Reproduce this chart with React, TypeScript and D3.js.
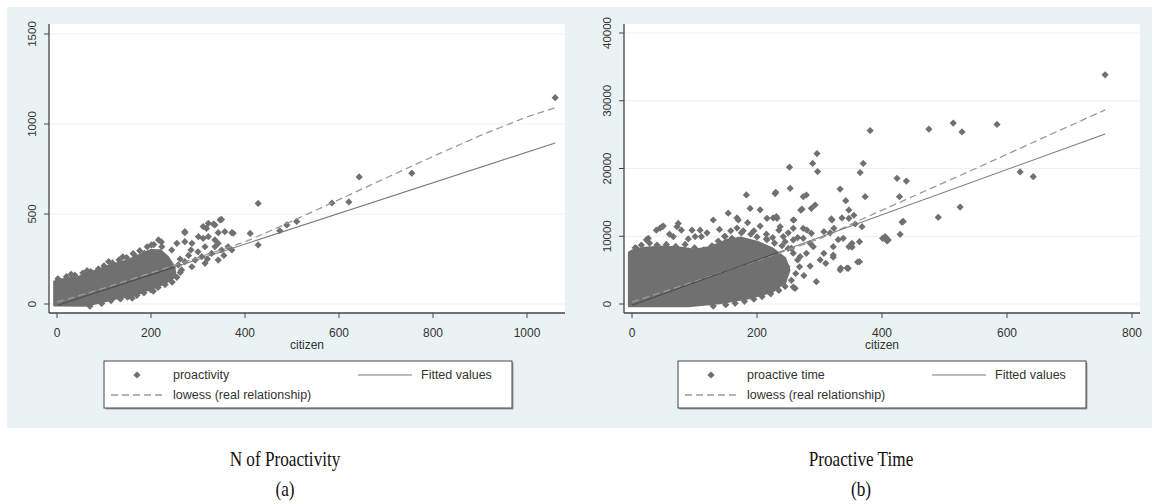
import * as d3 from "d3";

// ---- panel (a): N of Proactivity ----
const xTicksA = [0, 200, 400, 600, 800, 1000];
const yTicksA = [0, 500, 1000, 1500];

// solid core of the dense cloud (citizen, proactivity)
const cloudA: [number, number][] = [
  [-6, -8], [60, -10], [95, 10], [130, 33], [166, 48], [187, 72], [216, 98],
  [240, 130], [252, 155], [250, 205], [236, 262], [220, 298], [200, 300],
  [180, 278], [152, 245], [116, 218], [81, 185], [45, 150], [17, 140], [-6, 125],
];

const pointsA: [number, number][] = [
  [2, 140], [20, 152], [38, 160], [55, 172], [72, 180], [88, 195], [100, 212], [118, 228], [132, 245],
  [148, 258], [162, 280], [176, 296], [192, 318], [206, 330], [222, 345], [168, 262], [186, 282],
  [140, 262], [110, 235], [64, 185], [30, 165],
  [70, -12], [95, 3], [115, 18], [135, 28], [150, 38], [170, 48], [185, 62], [200, 78],
  [215, 92], [230, 108], [245, 122], [255, 148], [262, 175], [160, 32], [205, 72],
  [272, 402], [311, 430], [322, 448], [336, 439], [347, 467], [357, 402], [375, 393],
  [336, 356], [322, 374], [301, 374], [287, 337], [272, 346], [255, 337], [244, 300],
  [223, 318], [216, 356], [201, 328], [315, 318], [336, 318], [350, 300], [364, 318],
  [372, 300], [329, 281], [308, 263], [294, 244], [272, 235], [258, 217], [315, 226],
  [343, 244], [287, 207], [265, 189], [244, 198], [343, 337], [300, 290], [280, 270],
  [262, 250], [320, 250], [355, 270], [285, 300], [230, 240],
  [428, 559], [350, 470], [333, 444], [318, 420], [343, 396], [372, 396], [411, 392],
  [428, 328], [272, 396], [311, 365],
  [474, 407], [489, 439], [510, 459], [585, 561], [621, 567], [643, 706], [755, 727], [1060, 1146],
];

const fitA: [number, number][] = [[0, -8], [1060, 895]];
const lowessA: [number, number][] = [
  [0, 10], [100, 88], [200, 172], [300, 258], [400, 345], [500, 460],
  [600, 580], [700, 700], [800, 820], [900, 935], [1000, 1040], [1060, 1090],
];

// ---- panel (b): Proactive Time ----
const xTicksB = [0, 200, 400, 600, 800];
const yTicksB = [0, 10000, 20000, 30000, 40000];

const cloudB: [number, number][] = [
  [-5, -350], [90, -350], [140, 100], [190, 900], [225, 1800], [245, 3200], [252, 5000],
  [245, 6800], [225, 8200], [200, 9200], [175, 9800], [150, 9400], [125, 8400],
  [100, 8000], [80, 8300], [50, 8500], [20, 8300], [0, 7900], [-5, 7600],
];

const pointsB: [number, number][] = [
  [5, 8300], [15, 8700], [28, 9000], [40, 8700], [55, 8800], [70, 8500], [85, 8800],
  [100, 8300], [115, 8000], [128, 8600], [138, 9300], [148, 10000], [158, 10800],
  [168, 11200], [178, 10800], [190, 10300], [200, 9900], [215, 9600], [228, 9000],
  [240, 8600], [250, 8200], [258, 7500], [265, 6500], [268, 5500], [262, 4500],
  [255, 3500], [245, 2600], [235, 2000], [222, 1500], [208, 1100], [195, 700],
  [180, 400], [165, 100], [150, -100], [130, -300],
  [183, 16100], [229, 16300], [154, 13400], [189, 14100], [205, 13900], [216, 12650],
  [232, 12650], [170, 12400], [45, 11200], [50, 11500], [39, 10900], [74, 11900],
  [79, 10900], [66, 9950], [96, 10900], [109, 10900], [101, 9950], [111, 9950],
  [23, 9450], [7, 8220], [149, 9950], [194, 1330], [205, 2570], [232, 3540],
  [199, 3540], [183, 4530], [48, 11400], [72, 11400], [26, 9700], [120, 10500], [130, 12400],
  [168, 12700], [226, 12700], [235, 10900], [216, 9500], [258, 12400], [272, 14000],
  [280, 10900], [317, 10500], [320, 12400], [336, 12700], [355, 13100], [330, 9500],
  [352, 8400], [322, 6900], [258, 2500], [194, 1600], [208, 2700], [334, 5300], [344, 5300],
  [361, 6200], [275, 4200], [285, 5600], [295, 3300], [310, 6000], [250, 10500], [265, 9800],
  [205, 11500], [185, 12000], [160, 9700], [140, 11000], [90, 9600], [60, 10300],
  [215, 10300], [195, 10800], [175, 10500], [225, 9800], [245, 9200],
  [381, 25600], [296, 22200], [289, 20750], [297, 19550], [252, 20200], [370, 20750],
  [365, 19400], [424, 18550], [439, 18150], [253, 17080], [230, 16480], [333, 16970],
  [373, 15840], [342, 15250], [428, 15840], [274, 15840], [279, 16090], [270, 13870],
  [287, 14120], [293, 14610], [347, 13870], [347, 12650], [319, 12550], [357, 11810],
  [368, 11420], [434, 12180], [405, 9950], [410, 9450], [429, 10290], [231, 12900],
  [237, 11420], [259, 12400], [258, 11170], [274, 11170], [287, 10430], [307, 10680],
  [323, 11170], [338, 9700], [352, 8950], [364, 9200], [347, 8460], [322, 8460],
  [322, 7230], [307, 7480], [301, 6500], [364, 6250], [333, 5020], [346, 5270],
  [290, 8460], [279, 7480], [285, 8950], [258, 9450], [269, 7000], [261, 2320],
  [242, 3290], [231, 5510], [248, 5510], [242, 9950], [255, 8220], [274, 9700],
  [475, 25800], [514, 26700], [528, 25400], [584, 26500], [621, 19500], [642, 18800],
  [525, 14300], [490, 12800], [432, 12100], [401, 9700], [408, 9300], [757, 33830],
];

const fitB: [number, number][] = [[0, -200], [757, 25100]];
const lowessB: [number, number][] = [
  [0, 300], [100, 3300], [200, 6400], [300, 9600], [365, 12400], [450, 15900],
  [550, 20000], [650, 24200], [757, 28650],
];

const GRAY = "#707070";
const BG = "#eaf2f3";
const SANS = "Arial, 'Liberation Sans', sans-serif";
const SERIF = "'Liberation Serif', 'Times New Roman', serif";

type PanelProps = {
  id: string;
  bx0: number; bx1: number;
  px0: number; px1: number;
  xDomain: [number, number]; xRange: [number, number];
  yDomain: [number, number]; yRange: [number, number];
  xTicks: number[]; yTicks: number[];
  cloud: [number, number][]; points: [number, number][];
  fit: [number, number][]; lowess: [number, number][];
  yLabelX: number; seriesName: string;
  legX: number; legW: number;
};

const Diamond = ({ x, y }: { x: number; y: number }) => (
  <path d={d3.symbol(d3.symbolSquare, 26)() || ""} transform={`translate(${x},${y}) rotate(45)`} fill={GRAY} />
);

const Panel = (p: PanelProps) => {
  const x = d3.scaleLinear().domain(p.xDomain).range(p.xRange);
  const y = d3.scaleLinear().domain(p.yDomain).range(p.yRange);
  const top = 24, bottom = 313;
  const line = d3.line<[number, number]>().x(d => x(d[0])).y(d => y(d[1]));
  const area = d3.line<[number, number]>().x(d => x(d[0])).y(d => y(d[1])).curve(d3.curveLinearClosed);
  const cx = (p.px0 + p.px1) / 2;
  const ly = 361;
  const cloudPath = area(p.cloud) || "";
  return (
    <g>
      <defs>
        <clipPath id={"clip-" + p.id}><path d={cloudPath} /></clipPath>
      </defs>
      <rect x={p.bx0} y={7} width={p.bx1 - p.bx0} height={421} fill={BG} />
      <rect x={p.px0} y={top} width={p.px1 - p.px0} height={bottom - top} fill="#fff" />
      {p.yTicks.map(t => (
        <line key={"g" + t} x1={p.px0} x2={p.px1} y1={y(t)} y2={y(t)} stroke={BG} strokeWidth={1.2} />
      ))}
      <path d={cloudPath} fill={GRAY} stroke={GRAY} strokeWidth={2} strokeLinejoin="round" />
      {p.points.map((d, i) => <Diamond key={i} x={x(d[0])} y={y(d[1])} />)}
      <path d={line(p.lowess) || ""} fill="none" stroke="#9a9a9a" strokeWidth={1.3} strokeDasharray="7,4" />
      <path d={line(p.fit) || ""} fill="none" stroke="#7c7c7c" strokeWidth={1.1} />
      <path d={line(p.fit) || ""} fill="none" stroke="#4a4a4a" strokeWidth={1.1} clipPath={`url(#clip-${p.id})`} />
      {/* axes */}
      <line x1={p.px0} x2={p.px0} y1={top} y2={bottom} stroke="#444" strokeWidth={1.3} />
      <line x1={p.px0} x2={p.px1} y1={bottom} y2={bottom} stroke="#444" strokeWidth={1.3} />
      {p.yTicks.map(t => (
        <g key={"y" + t}>
          <line x1={p.px0 - 5} x2={p.px0} y1={y(t)} y2={y(t)} stroke="#444" strokeWidth={1} />
          <text transform={`translate(${p.yLabelX},${y(t)}) rotate(-90)`} textAnchor="middle"
            fontFamily={SANS} fontSize={11.5} fill="#333">{t}</text>
        </g>
      ))}
      {p.xTicks.map(t => (
        <g key={"x" + t}>
          <line x1={x(t)} x2={x(t)} y1={bottom} y2={bottom + 5} stroke="#444" strokeWidth={1} />
          <text x={x(t)} y={337} textAnchor="middle" fontFamily={SANS} fontSize={12} fill="#333">{t}</text>
        </g>
      ))}
      <text x={cx} y={349} textAnchor="middle" fontFamily={SANS} fontSize={12} fill="#333">citizen</text>
      {/* legend */}
      <rect x={p.legX + 1.5} y={ly + 1.5} width={p.legW} height={47} fill="#555" opacity={0.5} />
      <rect x={p.legX} y={ly} width={p.legW} height={47} fill="#fff" stroke="#444" strokeWidth={1} />
      <Diamond x={p.legX + 33} y={ly + 14} />
      <text x={p.legX + 69} y={ly + 18} fontFamily={SANS} fontSize={12.5} fill="#333">{p.seriesName}</text>
      <line x1={p.legX + 254} x2={p.legX + 308} y1={ly + 14} y2={ly + 14} stroke="#777" strokeWidth={1} />
      <text x={p.legX + 317} y={ly + 18} fontFamily={SANS} fontSize={12.5} fill="#333">Fitted values</text>
      <line x1={p.legX + 7} x2={p.legX + 61} y1={ly + 34} y2={ly + 34} stroke="#9a9a9a" strokeWidth={1.3} strokeDasharray="7,4" />
      <text x={p.legX + 69} y={ly + 38} fontFamily={SANS} fontSize={12.5} fill="#333">lowess (real relationship)</text>
    </g>
  );
};

const Caption = ({ x, y, text }: { x: number; y: number; text: string }) => (
  <text transform={`translate(${x},${y}) scale(0.86,1)`} textAnchor="middle" fontFamily={SERIF} fontSize={20} fill="#111">{text}</text>
);

export default function App() {
  return (
    <svg width={1153} height={504} style={{ position: "absolute", left: 0, top: 0, background: "#fff" }}>
      <Panel id="a" bx0={7} bx1={580} px0={49} px1={565}
        xDomain={[0, 1000]} xRange={[57, 527]} yDomain={[0, 1500]} yRange={[304, 34]}
        xTicks={xTicksA} yTicks={yTicksA} cloud={cloudA} points={pointsA}
        fit={fitA} lowess={lowessA} yLabelX={36} seriesName="proactivity" legX={104} legW={408} />
      <Panel id="b" bx0={580} bx1={1152} px0={624} px1={1140}
        xDomain={[0, 800]} xRange={[632, 1132]} yDomain={[0, 40000]} yRange={[304, 33]}
        xTicks={xTicksB} yTicks={yTicksB} cloud={cloudB} points={pointsB}
        fit={fitB} lowess={lowessB} yLabelX={611} seriesName="proactive time" legX={678} legW={408} />
      <Caption x={285} y={466} text="N of Proactivity" />
      <Caption x={285} y={496} text="(a)" />
      <Caption x={861} y={466} text="Proactive Time" />
      <Caption x={861} y={496} text="(b)" />
    </svg>
  );
}
